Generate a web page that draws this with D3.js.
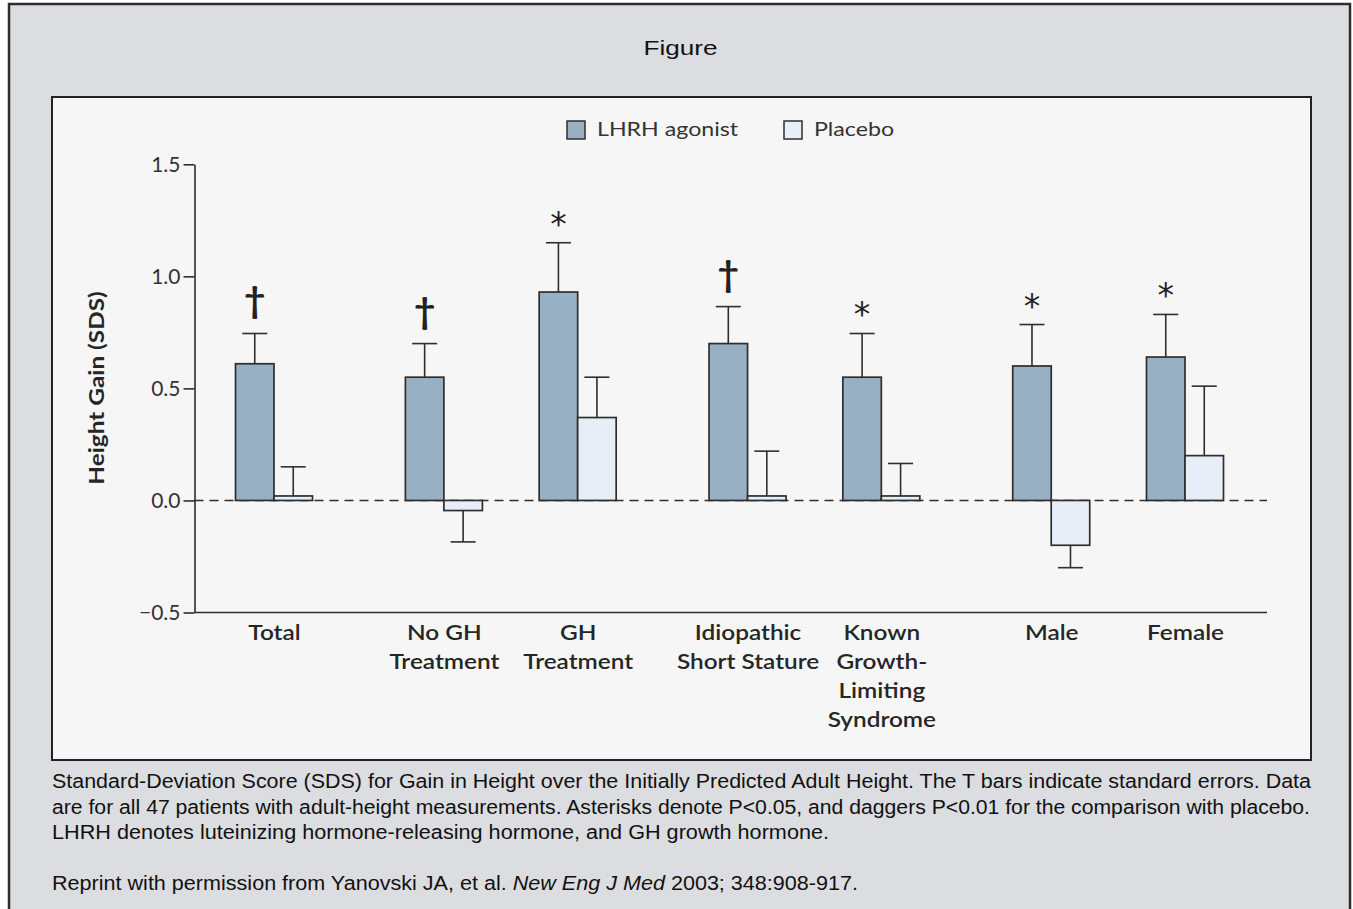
<!DOCTYPE html>
<html>
<head>
<meta charset="utf-8">
<script src="https://cdn.jsdelivr.net/npm/d3@7"></script>
<style>
  html, body { margin: 0; padding: 0; background: #ffffff; }
  svg { display: block; }
</style>
</head>
<body>
<svg id="fig" width="1353" height="909"></svg>
<script>
// Height gain (SDS) by subgroup: LHRH agonist vs placebo, with standard errors
const categories = ["Total", "No GH Treatment", "GH Treatment", "Idiopathic Short Stature",
  "Known Growth-Limiting Syndrome", "Male", "Female"];
const categoryLines = [["Total"], ["No GH", "Treatment"], ["GH", "Treatment"],
  ["Idiopathic", "Short Stature"], ["Known", "Growth-", "Limiting", "Syndrome"], ["Male"], ["Female"]];
const categoryGroup = [0, 1, 1, 2, 2, 3, 3];

const seriesNames = ["LHRH agonist", "Placebo"];
const lhrhMean = [0.61, 0.55, 0.93, 0.70, 0.55, 0.60, 0.64];
const lhrhSE = [0.135, 0.15, 0.22, 0.165, 0.195, 0.185, 0.19];
const placeboMean = [0.02, -0.045, 0.37, 0.02, 0.02, -0.20, 0.20];
const placeboSE = [0.13, 0.14, 0.18, 0.20, 0.145, 0.10, 0.31];
const significance = ["\u2020", "\u2020", "*", "\u2020", "*", "*", "*"];

const yTicks = [-0.5, 0.0, 0.5, 1.0, 1.5];

const captionLines = [
  "Standard-Deviation Score (SDS) for Gain in Height over the Initially Predicted Adult Height. The T bars indicate standard errors. Data",
  "are for all 47 patients with adult-height measurements. Asterisks denote P<0.05, and daggers P<0.01 for the comparison with placebo.",
  "LHRH denotes luteinizing hormone-releasing hormone, and GH growth hormone."
];

// ---- styling ----
const COL_LHRH = "#97b0c3";
const COL_PLACEBO = "#e7eef7";
const INK = "#2e2e2e";
const CHART_FONT = "Lato, 'Open Sans', sans-serif";
const CAPTION_FONT = "'Liberation Sans', Arial, sans-serif";
const SX = 1.16;          // horizontal stretch of chart lettering
const BAR_W = 38.5;
const CAP_W = 25;
const GROUP_GAP = 0.27;

const svg = d3.select("#fig");

// outer frame
svg.append("rect").attr("x", 9).attr("y", 4).attr("width", 1341).attr("height", 912)
  .attr("fill", "#dcdde0").attr("stroke", "#2d2d2d").attr("stroke-width", 2.5);

// title
svg.append("text").attr("x", 680.5).attr("y", 54.5).attr("text-anchor", "middle")
  .attr("font-family", CAPTION_FONT).attr("font-size", 21).attr("fill", "#111")
  .attr("textLength", 74).attr("lengthAdjust", "spacingAndGlyphs").text("Figure");

// chart panel
svg.append("rect").attr("x", 52).attr("y", 97).attr("width", 1259).attr("height", 663)
  .attr("fill", "#f6f6f7").attr("stroke", "#222").attr("stroke-width", 2);

// scales
const positions = categories.map((c, i) => i + GROUP_GAP * categoryGroup[i]);
const x = d3.scaleLinear().domain([0, d3.max(positions)]).range([274, 1185]);
const y = d3.scaleLinear().domain([-0.5, 1.5]).range([612.5, 164.3]);

const plot = svg.append("g");

// zero reference line
plot.append("line").attr("x1", 194.5).attr("x2", 1267).attr("y1", y(0)).attr("y2", y(0))
  .attr("stroke", INK).attr("stroke-width", 1.6).attr("stroke-dasharray", "9,6");

// bars
const rows = categories.map((c, i) => ({
  i, cx: x(positions[i]),
  bars: [
    { s: 0, v: lhrhMean[i], se: lhrhSE[i], fill: COL_LHRH, x0: x(positions[i]) - BAR_W },
    { s: 1, v: placeboMean[i], se: placeboSE[i], fill: COL_PLACEBO, x0: x(positions[i]) }
  ]
}));

const groups = plot.selectAll("g.cat").data(rows).join("g").attr("class", "cat");

// error bars (drawn first so the bar outline sits on top)
groups.selectAll("g.err").data(d => d.bars).join("g").attr("class", "err").each(function (b) {
  const g = d3.select(this);
  const cx = b.x0 + BAR_W / 2;
  const end = b.v >= 0 ? b.v + b.se : b.v - b.se;
  g.append("line").attr("x1", cx).attr("x2", cx).attr("y1", y(b.v)).attr("y2", y(end))
    .attr("stroke", INK).attr("stroke-width", 1.6);
  g.append("line").attr("x1", cx - CAP_W / 2).attr("x2", cx + CAP_W / 2).attr("y1", y(end)).attr("y2", y(end))
    .attr("stroke", INK).attr("stroke-width", 1.6);
});

groups.selectAll("rect.bar").data(d => d.bars).join("rect").attr("class", "bar")
  .attr("x", b => b.x0).attr("width", BAR_W)
  .attr("y", b => y(Math.max(0, b.v))).attr("height", b => Math.abs(y(b.v) - y(0)))
  .attr("fill", b => b.fill).attr("stroke", INK).attr("stroke-width", 1.7);

// significance markers above the LHRH error bar
groups.append("text")
  .attr("transform", d => {
    const top = y(lhrhMean[d.i] + lhrhSE[d.i]);
    const dy = significance[d.i] === "*" ? -7 : -20;
    return `translate(${d.cx - BAR_W / 2},${top + dy})`;
  })
  .attr("text-anchor", "middle")
  .attr("font-family", d => significance[d.i] === "*" ? "'DejaVu Sans', sans-serif" : CHART_FONT)
  .attr("font-size", d => significance[d.i] === "*" ? 33 : 37)
  .attr("font-weight", d => significance[d.i] === "*" ? 400 : 700)
  .attr("fill", "#222")
  .text(d => significance[d.i]);

// y axis
const yAxis = d3.axisLeft(y).tickValues(yTicks).tickFormat(d3.format(".1f"))
  .tickSize(11).tickSizeOuter(0).tickPadding(3);
const yg = svg.append("g").attr("transform", "translate(194.5,0)").call(yAxis);
yg.select(".domain").attr("stroke", INK).attr("stroke-width", 1.6);
yg.selectAll(".tick line").attr("stroke", INK).attr("stroke-width", 1.6);
yg.selectAll(".tick text").attr("font-family", CHART_FONT).attr("font-size", 21)
  .attr("fill", "#333").attr("font-weight", 400);

// x baseline
svg.append("line").attr("x1", 194.5).attr("x2", 1267).attr("y1", y(-0.5)).attr("y2", y(-0.5))
  .attr("stroke", INK).attr("stroke-width", 1.6);

// category labels
const xAxis = d3.axisBottom(x).tickValues(positions).tickSize(0).tickFormat("");
const xg = svg.append("g").attr("transform", `translate(0,${y(-0.5)})`).call(xAxis);
xg.select(".domain").remove();
xg.selectAll(".tick").each(function (d, i) {
  const t = d3.select(this).append("text")
    .attr("transform", `translate(0,27) scale(${SX},1)`)
    .attr("text-anchor", "middle").attr("font-family", CHART_FONT)
    .attr("font-size", 21).attr("font-weight", 600).attr("fill", "#262626");
  categoryLines[i].forEach((line, k) => {
    t.append("tspan").attr("x", 0).attr("y", k * 29.2).text(line);
  });
});

// y axis title
svg.append("text")
  .attr("transform", `translate(104,388) rotate(-90) scale(${SX},1)`)
  .attr("text-anchor", "middle").attr("font-family", CHART_FONT)
  .attr("font-size", 21).attr("font-weight", 700).attr("fill", "#262626")
  .text("Height Gain (SDS)");

// legend
const legend = svg.append("g");
const legendX = [567, 784];
seriesNames.forEach((name, k) => {
  legend.append("rect").attr("x", legendX[k]).attr("y", 121).attr("width", 18).attr("height", 18)
    .attr("fill", k === 0 ? COL_LHRH : COL_PLACEBO).attr("stroke", INK).attr("stroke-width", 1.5);
  legend.append("text").attr("transform", `translate(${legendX[k] + 30},136) scale(${SX},1)`)
    .attr("font-family", CHART_FONT).attr("font-size", 20).attr("fill", "#333").text(name);
});

// caption
const capWidths = [1259, 1258, 777];
captionLines.forEach((line, k) => {
  svg.append("text").attr("x", 52).attr("y", 788 + k * 25.5)
    .attr("font-family", CAPTION_FONT).attr("font-size", 19.5).attr("fill", "#111")
    .attr("textLength", capWidths[k]).attr("lengthAdjust", "spacingAndGlyphs").text(line);
});
const ref = svg.append("text").attr("x", 52).attr("y", 890)
  .attr("font-family", CAPTION_FONT).attr("font-size", 19.5).attr("fill", "#111")
  .attr("textLength", 806).attr("lengthAdjust", "spacingAndGlyphs");
ref.append("tspan").text("Reprint with permission from Yanovski JA, et al. ");
ref.append("tspan").attr("font-style", "italic").text("New Eng J Med");
ref.append("tspan").text(" 2003; 348:908-917.");
</script>
</body>
</html>
